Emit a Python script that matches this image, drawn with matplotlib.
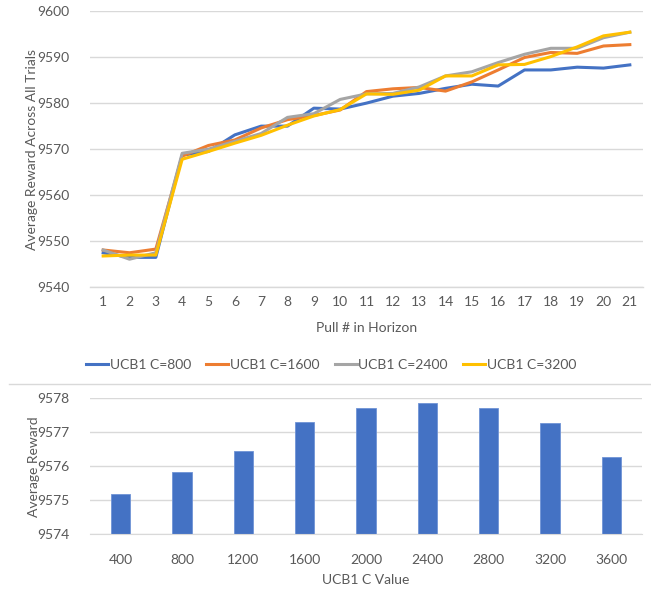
import matplotlib
matplotlib.use("Agg")
import matplotlib.pyplot as plt
from matplotlib.lines import Line2D

plt.rcParams['font.family'] = ['Lato', 'DejaVu Sans']

pulls = list(range(1, 22))
ucb_800 = [9547.5, 9546.5, 9546.5, 9568.7, 9569.5, 9573.1, 9575.0, 9575.0, 9578.9, 9578.7, 9580.0,
           9581.5, 9582.1, 9583.2, 9584.1, 9583.7, 9587.2, 9587.2, 9587.8, 9587.6, 9588.3]
ucb_1600 = [9548.1, 9547.5, 9548.3, 9568.5, 9570.8, 9572.0, 9574.6, 9576.4, 9577.3, 9578.5, 9582.5,
            9583.1, 9583.4, 9582.6, 9584.6, 9587.2, 9589.9, 9591.0, 9590.8, 9592.4, 9592.7]
ucb_2400 = [9548.1, 9546.1, 9547.5, 9569.1, 9570.0, 9571.7, 9573.4, 9576.9, 9577.7, 9580.8, 9582.0,
            9582.1, 9583.5, 9585.9, 9586.8, 9588.8, 9590.6, 9591.9, 9591.9, 9594.2, 9595.4]
ucb_3200 = [9546.8, 9547.0, 9547.0, 9567.8, 9569.5, 9571.3, 9573.0, 9575.2, 9577.2, 9578.6, 9582.0,
            9581.9, 9582.8, 9585.9, 9585.9, 9588.3, 9588.4, 9590.1, 9592.2, 9594.6, 9595.4]
series_labels = ["UCB1 C=800", "UCB1 C=1600", "UCB1 C=2400", "UCB1 C=3200"]
series_colors = ["#4472C4", "#ED7D31", "#A5A5A5", "#FFC000"]

c_values = ["400", "800", "1200", "1600", "2000", "2400", "2800", "3200", "3600"]
avg_reward = [9575.18, 9575.83, 9576.45, 9577.30, 9577.71, 9577.86, 9577.71, 9577.26, 9576.27]

W, H = 651, 590
fig = plt.figure(figsize=(W / 100, H / 100), dpi=100)
txt = "#595959"
grid = "#D9D9D9"
fs = 10

def ax_rect(x0, y0, x1, y1):
    return [x0 / W, 1 - y1 / H, (x1 - x0) / W, (y1 - y0) / H]

# Top line chart
ax1 = fig.add_axes(ax_rect(90, 11, 643, 287.3))
for vals, lab, col in zip([ucb_800, ucb_1600, ucb_2400, ucb_3200], series_labels, series_colors):
    ax1.plot(pulls, vals, color=col, lw=2.2, label=lab, solid_joinstyle='round')
ax1.set_xlim(0.5, 21.5)
ax1.set_ylim(9540, 9600)
ax1.set_yticks(range(9540, 9601, 10))
ax1.set_xticks(pulls)
ax1.grid(axis='y', color=grid, lw=1)
ax1.set_axisbelow(True)
for s in ['top', 'right', 'left']:
    ax1.spines[s].set_visible(False)
ax1.spines['bottom'].set_color(grid)
ax1.spines['bottom'].set_linewidth(1)
ax1.tick_params(length=0, labelsize=fs, colors=txt, pad=6)
ax1.tick_params(axis='y', pad=15)
ax1.set_xlabel("Pull # in Horizon", fontsize=fs, color=txt, labelpad=10)
ax1.set_ylabel("Average Reward Across All Trials", fontsize=fs, color=txt, labelpad=-1)

leg = fig.legend(*ax1.get_legend_handles_labels(), loc='center', ncol=4,
                 bbox_to_anchor=(331 / W, 1 - 365 / H), frameon=False, fontsize=fs,
                 handlelength=1.6, handletextpad=0.1, columnspacing=1.1)
for t in leg.get_texts():
    t.set_color(txt)

# separator / border of bottom chart
fig.add_artist(Line2D([9 / W, 1.0], [1 - 384 / H, 1 - 384 / H], color=grid, lw=1))

# Bottom bar chart
ax2 = fig.add_axes(ax_rect(90, 398.3, 642, 534.3))
ax2.bar(range(len(c_values)), avg_reward, width=0.31, color="#4472C4", edgecolor="#6F93D6", lw=0.6)
ax2.set_xlim(-0.5, len(c_values) - 0.5)
ax2.set_ylim(9574, 9578)
ax2.set_yticks(range(9574, 9579))
ax2.set_xticks(range(len(c_values)))
ax2.set_xticklabels(c_values)
ax2.grid(axis='y', color=grid, lw=1)
ax2.set_axisbelow(True)
for s in ['top', 'right', 'left']:
    ax2.spines[s].set_visible(False)
ax2.spines['bottom'].set_color(grid)
ax2.tick_params(length=0, labelsize=fs, colors=txt, pad=14)
ax2.tick_params(axis='y', pad=15)
ax2.set_xlabel("UCB1 C Value", fontsize=fs, color=txt, labelpad=6)
ax2.set_ylabel("Average Reward", fontsize=fs, color=txt, labelpad=-2)

fig.savefig("out.png", dpi=100)
